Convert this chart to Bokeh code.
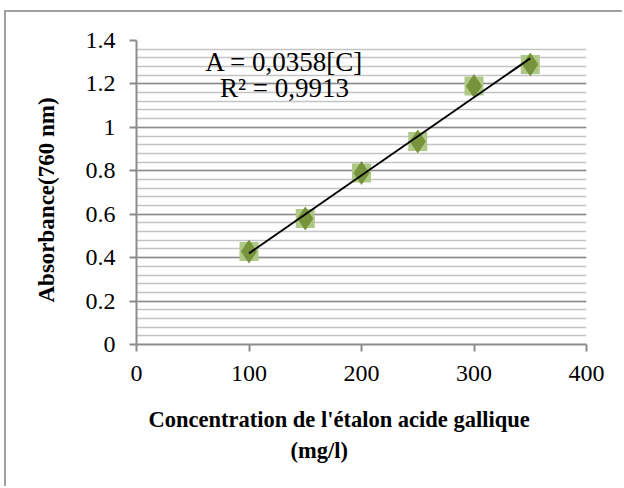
import numpy as np
from bokeh.plotting import figure
from bokeh.models import (Range1d, FixedTicker, CustomJSTickFormatter, Label,
                          Title)
from bokeh.embed import file_html
from bokeh.resources import INLINE

# ---- data ----
concentration = [100, 150, 200, 250, 300, 350]
absorbance = [0.428, 0.58, 0.79, 0.935, 1.19, 1.29]
x_ticks = [0, 100, 200, 300, 400]
y_ticks = [0, 0.2, 0.4, 0.6, 0.8, 1.0, 1.2, 1.4]
equation_text = "A = 0,0358[C]"
r2_text = "R² = 0,9913"
x_title_1 = "Concentration de l'étalon acide gallique"
x_title_2 = "(mg/l)"
y_title = "Absorbance(760 nm)"

FONT = "Liberation Serif"
GRID_MAJOR = "#8c8c8c"
GRID_MINOR = "#c4c4c4"

p = figure(width=618, height=476, output_backend="svg", toolbar_location=None,
           x_range=Range1d(0, 400), y_range=Range1d(0, 1.4),
           min_border_left=130, min_border_right=38, min_border_top=28,
           min_border_bottom=144)
p.styles = {"margin-left": "4px", "margin-top": "10px",
            "border-left": "2px solid #a0a0a0", "border-top": "2px solid #a0a0a0"}
p.outline_line_color = None
p.background_fill_color = "white"
p.border_fill_color = "white"

# ticks / axes
p.xaxis.ticker = FixedTicker(ticks=x_ticks)
minor_y = [round(v, 2) for v in np.arange(0, 1.4001, 0.04)]
p.yaxis.ticker = FixedTicker(ticks=y_ticks, minor_ticks=minor_y)
fmt = CustomJSTickFormatter(code="return String(tick)")
p.yaxis.formatter = fmt
p.xaxis.formatter = fmt

for ax in (p.xaxis, p.yaxis):
    ax.axis_line_color = GRID_MAJOR
    ax.axis_line_width = 2
    ax.major_tick_line_color = GRID_MAJOR
    ax.major_tick_line_width = 2
    ax.major_tick_out = 7
    ax.major_tick_in = 0
    ax.minor_tick_line_color = None
    ax.major_label_text_font = FONT
    ax.major_label_text_font_size = "24px"
    ax.major_label_text_color = "black"
p.yaxis.major_label_standoff = 14
p.xaxis.major_label_standoff = 14
# blank spacer label below the x tick labels
p.xaxis.axis_label = " "
p.xaxis.axis_label_text_font_size = "10px"
p.xaxis.axis_label_standoff = 3

p.xgrid.grid_line_color = None
p.ygrid.grid_line_color = GRID_MAJOR
p.ygrid.grid_line_width = 1.6
p.ygrid.minor_grid_line_color = GRID_MINOR
p.ygrid.minor_grid_line_width = 1.6

# markers
p.scatter(concentration, absorbance, marker="square", size=19,
          fill_color="#adc985", line_color=None)
p.scatter(concentration, absorbance, marker="diamond", size=24,
          fill_color="#77933c", line_color=None)

# trend line (least squares of the data)
slope, intercept = np.polyfit(concentration, absorbance, 1)
xs = [min(concentration), max(concentration)]
p.line(xs, [slope * v + intercept for v in xs], line_color="black", line_width=2)

# annotations
p.add_layout(Label(x=131.5, y=1.30, text=equation_text, text_font=FONT,
                   text_font_size="27px", text_align="center",
                   text_baseline="middle", text_color="black"))
p.add_layout(Label(x=131.5, y=1.18, text=r2_text, text_font=FONT,
                   text_font_size="27px", text_align="center",
                   text_baseline="middle", text_color="black"))

# y axis title
ty = Title(text=y_title, text_font=FONT, text_font_size="23px",
           text_font_style="bold", align="left", offset=42, standoff=48,
           text_color="black")
p.add_layout(ty, "left")

# x axis title (two lines)
t1 = Title(text=x_title_1, text_font=FONT, text_font_size="22.5px",
           text_font_style="bold", align="left", offset=12, standoff=8,
           text_color="black")
t2 = Title(text=x_title_2, text_font=FONT, text_font_size="22.5px",
           text_font_style="bold", align="left", offset=154, standoff=0,
           text_color="black")
p.add_layout(t1, "below")
p.add_layout(t2, "below")

open("out.html", "w").write(file_html(p, INLINE))
